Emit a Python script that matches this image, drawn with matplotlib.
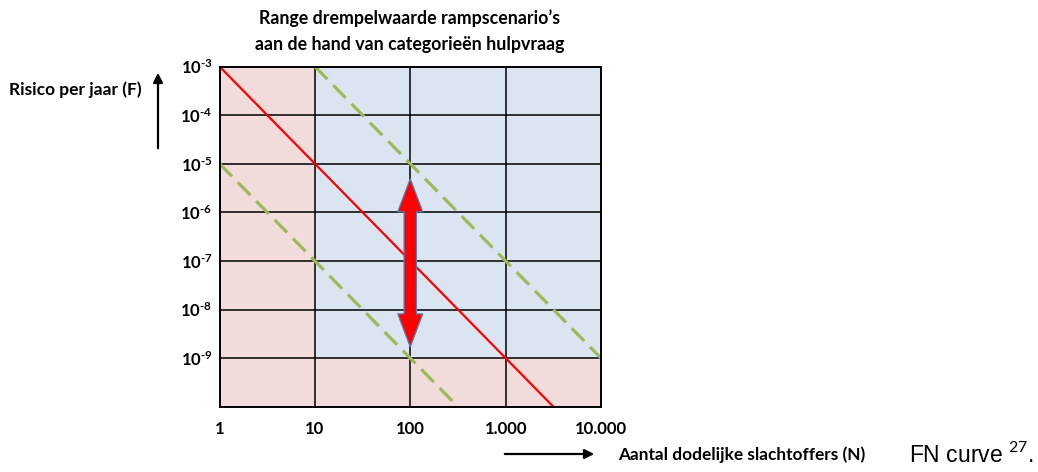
"""
FN-curve: range drempelwaarde rampscenario's
"""
import matplotlib
matplotlib.use('Agg')
import matplotlib.pyplot as plt
import matplotlib.transforms as mtransforms

plt.rcParams['font.family'] = ['Lato', 'DejaVu Sans']
plt.rcParams['mathtext.fontset'] = 'custom'
plt.rcParams['mathtext.rm'] = 'Lato'
plt.rcParams['mathtext.bf'] = 'Lato:bold'

# data
n_ticks = [1, 10, 100, 1000, 10000]
n_labels = ['1', '10', '100', '1.000', '10.000']
f_ticks = [1e-3, 1e-4, 1e-5, 1e-6, 1e-7, 1e-8, 1e-9]
f_exps = [3, 4, 5, 6, 7, 8, 9]

# norm-lijn (rood)
red_n = [1, 10, 100, 1000, 3162]
red_f = [1e-3, 1e-5, 1e-7, 1e-9, 1e-10]
# range (groen gestippeld)
upper_n = [10, 100, 1000, 10000]
upper_f = [1e-3, 1e-5, 1e-7, 1e-9]
lower_n = [1, 10, 100, 316]
lower_f = [1e-5, 1e-7, 1e-9, 1e-10]
# dubbele pijl
arrow_n = 100
arrow_f_top = 4.9e-6
arrow_f_bottom = 1.7e-9

PINK = '#F2DCDB'
BLUE = '#DBE5F1'
GREEN = '#9BBB59'
RED = '#FF0000'

fig = plt.figure(figsize=(10.38, 4.72), dpi=100)
ax = fig.add_axes([219.5 / 1038, 65.3 / 472, 381.5 / 1038, 340.2 / 472])
ax.set_xscale('log')
ax.set_yscale('log')
ax.set_xlim(1, 10000)
ax.set_ylim(1e-10, 1e-3)

# achtergrondvlakken
ax.axvspan(1, 10, color=PINK, lw=0, zorder=0)
ax.axhspan(1e-10, 1e-9, color=PINK, lw=0, zorder=0)
ax.fill_between([10, 10000], 1e-9, 1e-3, color=BLUE, lw=0, zorder=0)

# grid
ax.set_xticks(n_ticks)
ax.set_xticklabels(n_labels, fontsize=12, fontweight='bold')
ax.set_yticks(f_ticks)
ax.set_yticklabels(['$\\mathbf{10^{-%d}}$'.replace('-', '\u2010') % e for e in f_exps],
                   fontsize=12)
ax.minorticks_off()
ax.tick_params(length=0, pad=5)
ax.tick_params(axis='x', pad=10)
ax.grid(True, color='black', lw=1.1, zorder=1)
ax.set_axisbelow(False)
for s in ax.spines.values():
    s.set_linewidth(1.4)
    s.set_zorder(5)

# lijnen
ax.plot(red_n, red_f, color=RED, lw=1.6, zorder=3, solid_capstyle='butt')
ax.plot(upper_n, upper_f, color=GREEN, lw=2.3, dashes=(5.6, 2.6), zorder=3)
ax.plot(lower_n, lower_f, color=GREEN, lw=2.3, dashes=(5.6, 2.6), zorder=3)

# dubbele rode pijl (in pixels rond de datapunten)
cx, yt = ax.transData.transform((arrow_n, arrow_f_top))
_, yb = ax.transData.transform((arrow_n, arrow_f_bottom))
hw, sw, hl = 12.5, 6.2, 33
pts = [(cx, yt), (cx + hw, yt - hl), (cx + sw, yt - hl), (cx + sw, yb + hl),
       (cx + hw, yb + hl), (cx, yb), (cx - hw, yb + hl), (cx - sw, yb + hl),
       (cx - sw, yt - hl), (cx - hw, yt - hl)]
arrow = plt.Polygon(pts, closed=True, facecolor=RED, edgecolor='#4F81BD',
                    lw=0.9, transform=mtransforms.IdentityTransform(), zorder=4)
ax.add_patch(arrow)

# titel
fig.text(410 / 1038, 1 - 18 / 472, 'Range drempelwaarde rampscenario\u2019s',
         ha='center', va='center', fontsize=12.8, fontweight='bold')
fig.text(410 / 1038, 1 - 44.5 / 472, 'aan de hand van categorieën hulpvraag',
         ha='center', va='center', fontsize=12.8, fontweight='bold')

# as-labels met pijlen
fig.text(9 / 1038, 1 - 90 / 472, 'Risico per jaar (F)', ha='left', va='center',
         fontsize=12.5, fontweight='bold')
ax.annotate('', xy=(158 / 1038, 1 - 70 / 472), xytext=(158 / 1038, 1 - 151 / 472),
            xycoords='figure fraction',
            arrowprops=dict(arrowstyle='-|>', color='black', lw=1.6, mutation_scale=14))
ax.annotate('', xy=(597 / 1038, 1 - 454 / 472), xytext=(502 / 1038, 1 - 454 / 472),
            xycoords='figure fraction',
            arrowprops=dict(arrowstyle='-|>', color='black', lw=1.6, mutation_scale=14))
fig.text(618 / 1038, 1 - 455 / 472, 'Aantal dodelijke slachtoffers (N)', ha='left',
         va='center', fontsize=12.4, fontweight='bold')

# bijschrift
fig.text(909 / 1038, 1 - 462 / 472, 'FN curve $^{27}$.', ha='left', va='baseline',
         fontsize=16.5, family='Liberation Sans')

plt.savefig('out.png', dpi=100)
plt.close()
